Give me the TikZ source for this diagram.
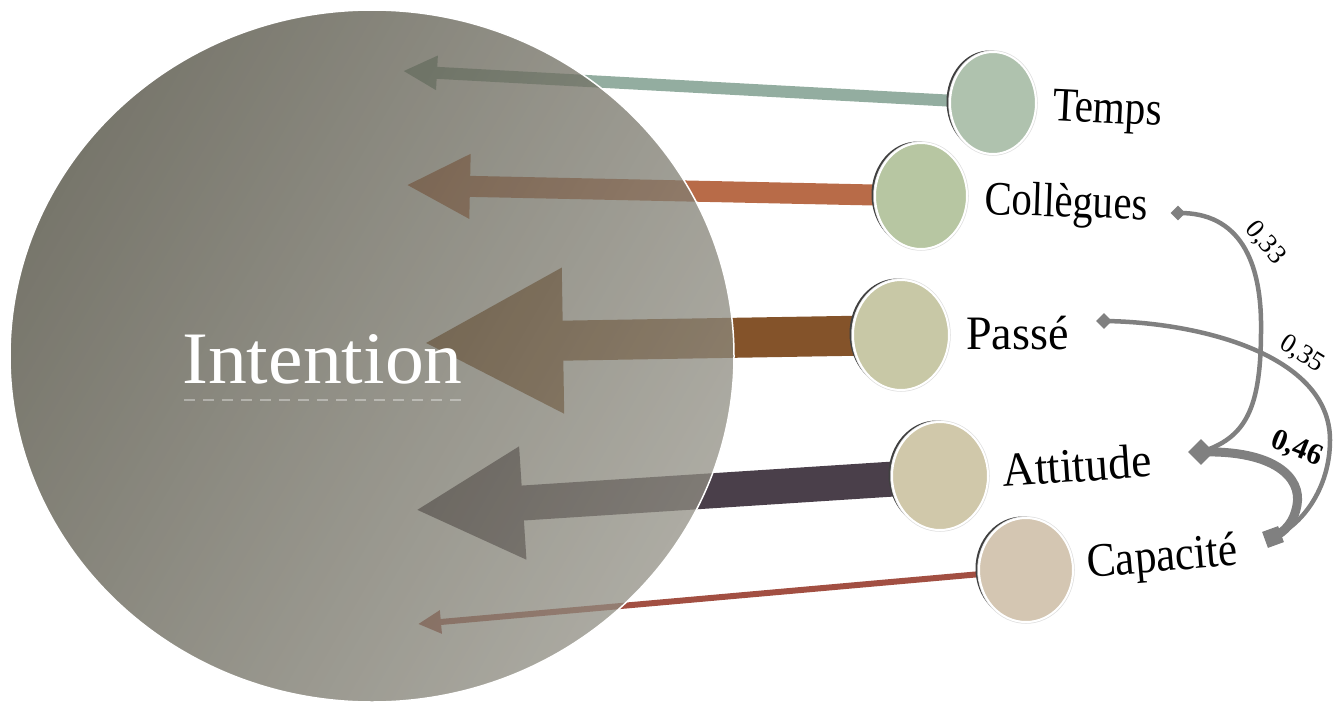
\documentclass[tikz,border=0pt]{standalone}
\usepackage{fontspec}
\setmainfont{Liberation Serif}
\usetikzlibrary{arrows.meta,shapes.geometric,shadows}
\definecolor{cTemps}{HTML}{AFC2AE}
\definecolor{cColl}{HTML}{B7C6A2}
\definecolor{cPasse}{HTML}{C8C8A6}
\definecolor{cAtt}{HTML}{D0C8AA}
\definecolor{cCap}{HTML}{D4C6B2}
\definecolor{aTemps}{HTML}{93ADA0}
\definecolor{aColl}{HTML}{B86B48}
\definecolor{aPasse}{HTML}{84532A}
\definecolor{aAtt}{HTML}{4A3F4A}
\definecolor{aCap}{HTML}{A24F42}
\definecolor{bigA}{HTML}{4A483A}
\definecolor{bigB}{HTML}{918F84}
\definecolor{linkc}{HTML}{808080}
\pgfdeclarelayer{arrowlayer}
\pgfsetlayers{arrowlayer,main}
\begin{document}
\begin{tikzpicture}[x=1pt,y=-1pt,
  disc/.style={ellipse, inner sep=0pt, draw=white, line width=2pt,
    general shadow={shadow xshift=-3.5pt, shadow yshift=1.5pt, fill=black!75},
    preaction={draw=black!12, line width=3.5pt}},
  lbl/.style={font=\fontsize{48}{56}\selectfont, anchor=base west, inner sep=0pt},
  num/.style={font=\fontsize{27}{30}\selectfont, inner sep=0pt},
  link/.style={draw=linkc, line width=4.5pt},
  endmark/.style={fill=linkc, inner sep=0pt},
  flow/.style={line cap=butt}
]
\useasboundingbox (0,0) rectangle (1342,702);

% big circle
\node[ellipse, inner sep=0pt, minimum width=724pt, minimum height=692pt,
  left color=bigA, right color=bigB, shading angle=60, fill opacity=0.75,
  draw=white, line width=1.5pt] (intent) at (372,356) {};
\node[font=\fontsize{74}{80}\selectfont, text=white, anchor=base west, inner sep=0pt]
  (intentlbl) at (182,383) {\scalebox{1.05}[1]{Intention}};
\draw[white, opacity=0.35, line width=2pt, dash pattern=on 11pt off 8pt]
  (184,400) -- (463,400);

% tips
\coordinate (tipT) at (403,71);
\coordinate (tipC) at (406,185);
\coordinate (tipP) at (423,343);
\coordinate (tipA) at (415,510);
\coordinate (tipK) at (418,624);

% small discs
\node[disc, fill=cTemps, minimum width=86pt, minimum height=102pt] (tD) at (993,103) {};
\node[disc, fill=cColl, minimum width=92pt, minimum height=106pt] (cD) at (921,196) {};
\node[disc, fill=cPasse, minimum width=96pt, minimum height=110pt] (pD) at (901,335) {};
\node[disc, fill=cAtt, minimum width=96pt, minimum height=108pt] (aD) at (940,476) {};
\node[disc, fill=cCap, minimum width=94pt, minimum height=104pt] (kD) at (1026,570) {};

% labels
\node[lbl, rotate=-3] (tL) at (1052,120) {\scalebox{0.86}[1]{Temps}};
\node[lbl, rotate=-2] (cL) at (984,214) {\scalebox{0.85}[1]{Collègues}};
\node[lbl] (pL) at (966,349) {\scalebox{0.96}[1]{Passé}};
\node[lbl, rotate=4] (aL) at (1003,487) {\scalebox{0.95}[1]{Attitude}};
\node[lbl, rotate=5] (kL) at (1088,578) {\scalebox{0.9}[1]{Capacité}};

% arrows into intention
\begin{pgfonlayer}{arrowlayer}
\draw[flow, draw=aTemps, line width=12pt, -{Triangle[length=34pt, width=32pt]}] (tD.center) -- (tipT);
\draw[flow, draw=aColl, line width=21pt, -{Triangle[length=64pt, width=60pt]}] (cD.center) -- (tipC);
\draw[flow, draw=aPasse, line width=40pt, -{Triangle[length=140pt, width=135pt]}] (pD.center) -- (tipP);
\draw[flow, draw=aAtt, line width=35pt, -{Triangle[length=108pt, width=105pt]}] (aD.center) -- (tipA);
\draw[flow, draw=aCap, line width=6pt, -{Triangle[length=23pt, width=22pt]}] (kD.center) -- (tipK);
\end{pgfonlayer}

% correlation links
\node[diamond, endmark, minimum size=15pt] (dC) at (1178,213) {};
\node[diamond, endmark, minimum size=16pt] (dP) at (1104,321) {};
\node[diamond, endmark, minimum size=26pt] (dA) at (1201,452) {};
\node[rectangle, endmark, minimum size=17pt, rotate=20] (dK) at (1273,537) {};

\draw[link] (dC.center) .. controls (1240,212) and (1262,262) .. (1261,330)
  .. controls (1261,410) and (1245,438) .. (dA.center);
\draw[link] (dP.center) .. controls (1200,322) and (1330,355) .. (1330,440)
  .. controls (1330,490) and (1300,527) .. (dK.center);
\draw[link, line width=9pt] (dA.center) .. controls (1275,450) and (1302,478) .. (1297,505)
  .. controls (1294,522) and (1285,532) .. (dK.center);

\node[num, rotate=-50] (n33) at (1265,243) {0,33};
\node[num, rotate=-32] (n35) at (1302,354) {0,35};
\node[num, font=\bfseries\fontsize{30}{34}\selectfont, rotate=-22] (n46) at (1297,449) {0,46};
\end{tikzpicture}
\end{document}
